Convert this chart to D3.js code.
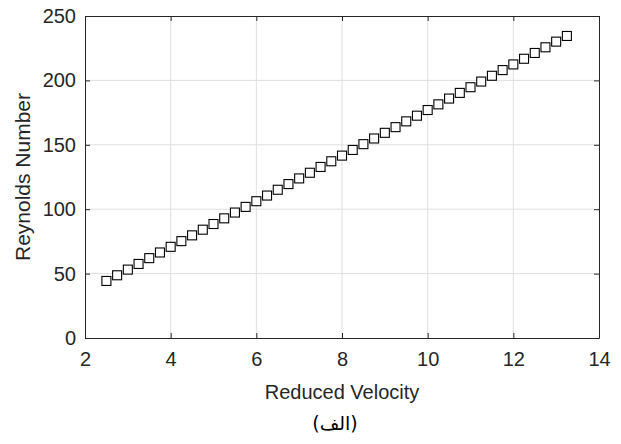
<!DOCTYPE html>
<html>
<head>
<meta charset="utf-8">
<script src="https://cdn.jsdelivr.net/npm/d3@7"></script>
<style>
  body { margin: 0; background: #fff; }
  text { font-family: "Liberation Sans", Arial, sans-serif; fill: #262626; }
</style>
</head>
<body>
<div id="chart"></div>
<script>
// reduced velocity (x) and Reynolds number (y)
const reducedVelocity = [2.5, 2.75, 3.0, 3.25, 3.5, 3.75, 4.0, 4.25, 4.5, 4.75,
    5.0, 5.25, 5.5, 5.75, 6.0, 6.25, 6.5, 6.75, 7.0, 7.25,
    7.5, 7.75, 8.0, 8.25, 8.5, 8.75, 9.0, 9.25, 9.5, 9.75,
    10.0, 10.25, 10.5, 10.75, 11.0, 11.25, 11.5, 11.75, 12.0, 12.25,
    12.5, 12.75, 13.0, 13.25];
const reynolds = [44.3, 48.7, 53.1, 57.5, 62.0, 66.4, 70.8, 75.2, 79.7, 84.1,
    88.5, 92.9, 97.4, 101.8, 106.2, 110.6, 115.1, 119.5, 123.9, 128.3,
    132.8, 137.2, 141.6, 146.0, 150.5, 154.9, 159.3, 163.7, 168.2, 172.6,
    177.0, 181.4, 185.9, 190.3, 194.7, 199.1, 203.6, 208.0, 212.4, 216.8,
    221.3, 225.7, 230.1, 234.5];
const xTicks = [2, 4, 6, 8, 10, 12, 14];
const yTicks = [0, 50, 100, 150, 200, 250];

const W = 621, H = 444;
const margin = { top: 16, right: 22, bottom: 106, left: 85 };
const width = W - margin.left - margin.right;
const height = H - margin.top - margin.bottom;

const svg = d3.select("#chart").append("svg")
    .attr("width", W)
    .attr("height", H);

const g = svg.append("g")
    .attr("transform", `translate(${margin.left},${margin.top})`);

const x = d3.scaleLinear().domain([2, 14]).range([0, width]);
const y = d3.scaleLinear().domain([0, 250]).range([height, 0]);

// grid
g.append("g").selectAll("line.gx")
    .data(xTicks.slice(1, -1))
    .enter().append("line")
    .attr("x1", d => x(d)).attr("x2", d => x(d))
    .attr("y1", 0).attr("y2", height)
    .attr("stroke", "#dfdfdf").attr("stroke-width", 1);

g.append("g").selectAll("line.gy")
    .data(yTicks.slice(1, -1))
    .enter().append("line")
    .attr("x1", 0).attr("x2", width)
    .attr("y1", d => y(d)).attr("y2", d => y(d))
    .attr("stroke", "#dfdfdf").attr("stroke-width", 1);

// axes (ticks inside, matlab style)
const axisColor = "#262626";
const xAxis = g.append("g")
    .attr("transform", `translate(0,${height})`)
    .call(d3.axisBottom(x).tickValues(xTicks).tickSizeInner(-5).tickSizeOuter(0).tickPadding(14));
const xAxisTop = g.append("g")
    .call(d3.axisTop(x).tickValues(xTicks).tickSizeInner(-5).tickSizeOuter(0).tickFormat(""));
const yAxis = g.append("g")
    .call(d3.axisLeft(y).tickValues(yTicks).tickSizeInner(-5).tickSizeOuter(0).tickPadding(9));
const yAxisRight = g.append("g")
    .attr("transform", `translate(${width},0)`)
    .call(d3.axisRight(y).tickValues(yTicks).tickSizeInner(-5).tickSizeOuter(0).tickFormat(""));

[xAxis, xAxisTop, yAxis, yAxisRight].forEach(a => {
    a.select(".domain").attr("stroke", axisColor).attr("stroke-width", 1);
    a.selectAll(".tick line").attr("stroke", axisColor);
    a.selectAll(".tick text")
        .attr("fill", axisColor)
        .style("font-size", "20px")
        .style("font-family", "Liberation Sans, Arial, sans-serif");
});

// markers
const pts = reducedVelocity.map((v, i) => ({ v: v, re: reynolds[i] }));
const s = 9;
g.append("g").selectAll("rect")
    .data(pts)
    .enter().append("rect")
    .attr("x", d => x(d.v) - s / 2)
    .attr("y", d => y(d.re) - s / 2)
    .attr("width", s)
    .attr("height", s)
    .attr("fill", "#fff")
    .attr("stroke", "#000")
    .attr("stroke-width", 1.1);

// labels
svg.append("text")
    .attr("x", margin.left + width / 2)
    .attr("y", 399)
    .attr("text-anchor", "middle")
    .style("font-size", "20px")
    .text("Reduced Velocity");

svg.append("text")
    .attr("transform", `translate(30,${margin.top + height / 2}) rotate(-90)`)
    .attr("text-anchor", "middle")
    .style("font-size", "21px")
    .text("Reynolds Number");

svg.append("text")
    .attr("x", 335)
    .attr("y", 430)
    .attr("text-anchor", "middle")
    .attr("direction", "rtl")
    .style("font-size", "19px")
    .style("font-family", "DejaVu Sans, Noto Sans, sans-serif")
    .style("fill", "#000")
    .text("(الف)");
</script>
</body>
</html>
